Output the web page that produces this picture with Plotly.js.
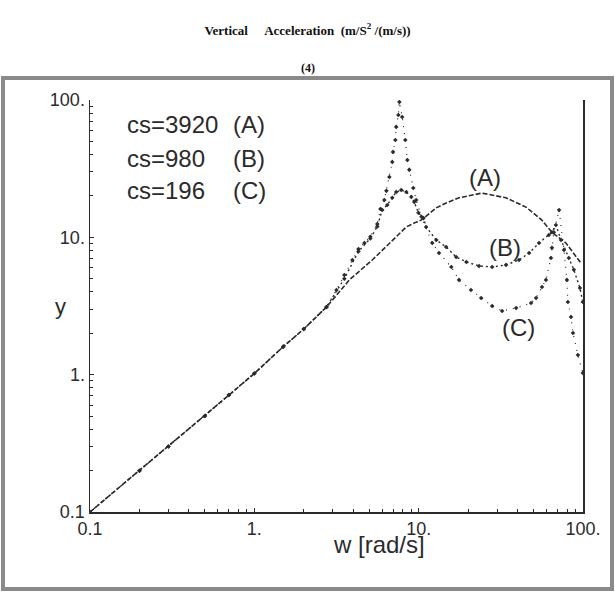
<!DOCTYPE html>
<html><head><meta charset="utf-8">
<script src="https://cdn.plot.ly/plotly-3.0.1.min.js"></script>
<style>html,body{margin:0;padding:0;background:#fff}</style>
</head><body><div id="chart" style="width:615px;height:592px"></div>
<script>
// Curve (A) cs=3920
const wA = [0.1,0.2,0.3,0.5,0.7,1,1.5,2,2.75,3.79,5.22,7.3,8.4,9.66,10.4,12.8,14.7,17.6,24.3,34,45,56,64.7,78.7,97];
const yA = [0.1,0.2,0.3,0.5,0.71,1.02,1.6,2.15,3.11,4.9,6.84,10.1,11.9,12.9,13.4,16.4,17.8,19.4,21.0,19.4,16.6,13.4,10.9,9.1,6.5];
// Curve (B) cs=980
const wB = [0.1,0.2,0.3,0.5,0.7,1,1.5,2,2.75,3.53,4.3,5.08,5.6,6.0,6.44,6.91,7.3,7.83,8.41,9.02,9.4,9.96,10.7,11.1,12.8,14.7,16.9,19.5,23.3,28,34,40.8,47,54,62,64.7,68.4,73.5,82,88,95.8,99.8];
const yB = [0.1,0.2,0.3,0.5,0.71,1.02,1.6,2.15,3.11,5.0,7.9,9.8,12.0,15.8,17.2,19.4,21.4,22.1,21.4,19.7,18.1,15.1,13.8,11.9,9.57,8.51,7.2,6.62,6.19,6.08,6.3,6.84,7.69,9.1,10.4,10.9,12.3,9.57,7.08,5.8,4.27,3.38];
// Curve (C) cs=196
const wC = [0.1,0.2,0.3,0.5,0.7,1,1.5,2,2.75,3.16,3.53,3.95,4.30,4.68,5.08,5.6,5.85,6.18,6.36,6.63,6.91,6.98,7.21,7.3,7.52,7.63,7.94,8.29,8.53,8.77,9.27,9.66,10.4,12.1,13.3,15.8,17.6,20.8,24,28,32.2,39.2,48.3,51.8,56.3,59.5,63.8,64.7,66.5,71.5,76.6,79.8,80.9,84.5,86.9,93.1,99.8];
const yC = [0.1,0.2,0.3,0.5,0.71,1.02,1.6,2.15,3.11,4.14,5.32,6.84,8.23,9.1,10.1,12.5,16.1,18.7,21.8,27.5,35.4,41.9,51.2,63.7,77.8,96.8,75.3,51.2,36.6,31.0,22.9,18.7,14.1,9.1,7.69,6.08,4.9,4.14,3.62,3.16,2.91,3.06,3.33,3.62,4.35,4.9,7.08,8.38,10.9,15.8,8.1,4.9,3.38,2.63,2.01,1.39,1.03];

const seriesLabels = ['cs=3920', 'cs=980', 'cs=196'];
const seriesTags = ['(A)', '(B)', '(C)'];

// Tick labels
const xTickVals = [0.1, 1, 10, 100];
const xTickText = ['0.1', '1.', '10.', '100.'];
const yTickVals = [0.1, 1, 10, 100];
const yTickText = ['0.1', '1.', '10.', '100.'];
const minorVals = [0.2,0.3,0.4,0.5,0.6,0.7,0.8,0.9,2,3,4,5,6,7,8,9,20,30,40,50,60,70,80,90];

const ink = '#2b2b2b';
const sans = 'Liberation Sans, Arial, sans-serif';
const serif = 'Liberation Serif, Times New Roman, serif';

const traces = [
  {x: wA, y: yA, mode: 'lines', line: {color: ink, width: 1.6, dash: '5px,2px'}, name: seriesLabels[0]},
  {x: wB, y: yB, mode: 'lines+markers', line: {color: ink, width: 1.4, dash: '2px,3px'}, marker: {symbol: 'diamond', size: 3.5, color: ink}, name: seriesLabels[1]},
  {x: wC, y: yC, mode: 'lines+markers', line: {color: ink, width: 1.2, dash: '1px,6px'}, marker: {symbol: 'diamond', size: 3.5, color: ink}, name: seriesLabels[2]}
];

const L = 90, R = 32, T = 100, B = 80, W = 615, H = 592;
const pw = W - L - R, ph = H - T - B;
const px = v => (v - L) / pw;
const py = v => (H - B - v) / ph;

const annotations = [];
const rowY = [125, 158, 190];
seriesLabels.forEach((s, i) => {
  annotations.push({xref: 'paper', yref: 'paper', x: px(125), y: py(rowY[i]), xanchor: 'left', yanchor: 'middle', text: s, showarrow: false, font: {family: sans, size: 24, color: ink}});
  annotations.push({xref: 'paper', yref: 'paper', x: px(231), y: py(rowY[i]), xanchor: 'left', yanchor: 'middle', text: seriesTags[i], showarrow: false, font: {family: sans, size: 24, color: ink}});
});
// curve tags
const tagPos = [[25.3, 27.1], [33.6, 8.5], [40.3, 2.22]];
seriesTags.forEach((t, i) => {
  annotations.push({xref: 'x', yref: 'y', x: Math.log10(tagPos[i][0]), y: Math.log10(tagPos[i][1]), text: t, showarrow: false, font: {family: sans, size: 24, color: ink}});
});
annotations.push({xref: 'paper', yref: 'paper', x: px(60), y: py(306), xanchor: 'center', yanchor: 'middle', text: 'y', showarrow: false, font: {family: sans, size: 22, color: ink}});
annotations.push({xref: 'paper', yref: 'paper', x: px(379), y: py(544), xanchor: 'center', yanchor: 'middle', text: 'w [rad/s]', showarrow: false, font: {family: sans, size: 24, color: ink}});
annotations.push({xref: 'paper', yref: 'paper', x: 0.5 - (L - R) / 2 / pw, y: py(68), xanchor: 'center', yanchor: 'middle', text: '<b>(4)</b>', showarrow: false, font: {family: serif, size: 12, color: '#111'}});

const layout = {
  width: W, height: H,
  margin: {l: L, r: R, t: T, b: B},
  paper_bgcolor: '#fff', plot_bgcolor: '#fff',
  showlegend: false,
  title: {text: '<b>Vertical\u00a0\u00a0\u00a0\u00a0\u00a0Acceleration\u00a0\u00a0(m/S<sup>2</sup> /(m/s))</b>', x: 0.5, xref: 'container', y: 1 - 30 / H, yref: 'container', yanchor: 'middle', font: {family: serif, size: 13, color: '#111'}},
  xaxis: {type: 'log', range: [-1, 2], showline: true, linecolor: ink, linewidth: 1.5, mirror: false, showgrid: false, zeroline: false,
          tickmode: 'array', tickvals: xTickVals, ticktext: xTickText, ticks: 'inside', ticklen: 4, tickcolor: ink,
          minor: {tickmode: 'array', tickvals: minorVals, ticks: 'inside', ticklen: 3, tickcolor: ink},
          tickfont: {family: sans, size: 18, color: ink}},
  yaxis: {type: 'log', range: [-1, 2], showline: true, linecolor: ink, linewidth: 1.5, mirror: true, showgrid: false, zeroline: false,
          tickmode: 'array', tickvals: yTickVals, ticktext: yTickText, ticks: 'inside', ticklen: 4, tickcolor: ink,
          minor: {tickmode: 'array', tickvals: minorVals, ticks: 'inside', ticklen: 3, tickcolor: ink},
          tickfont: {family: sans, size: 18, color: ink}},
  annotations: annotations,
  shapes: [
    {type: 'rect', xref: 'paper', yref: 'paper', x0: px(3), x1: px(612), y0: py(589), y1: py(78), line: {color: '#8a8a8a', width: 4}, fillcolor: 'rgba(0,0,0,0)', layer: 'below'}
  ]
};

Plotly.newPlot('chart', traces, layout, {staticPlot: true, displayModeBar: false});
</script></body></html>
